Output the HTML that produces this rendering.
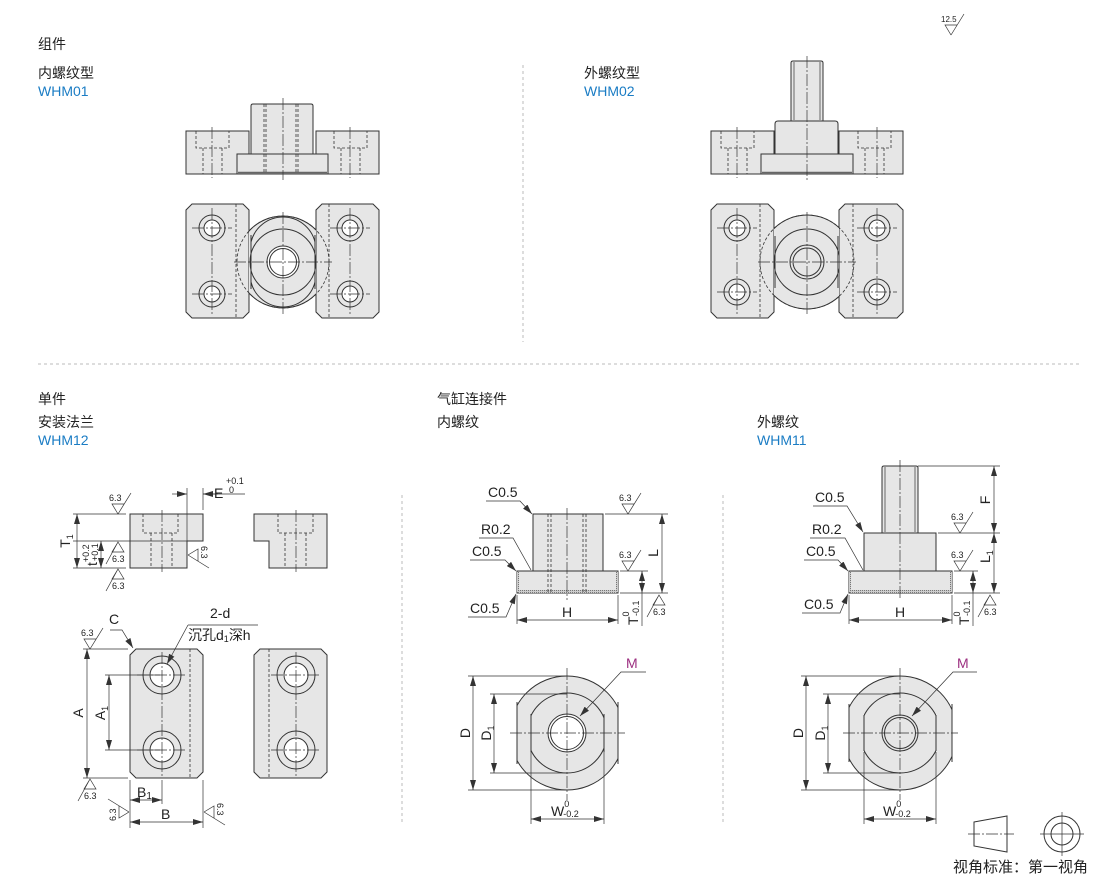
<!DOCTYPE html>
<html><head><meta charset="utf-8"><style>
html,body{margin:0;padding:0;background:#fff;}
svg{display:block;font-family:"Liberation Sans","Noto Sans CJK SC",sans-serif;}
.o{fill:#e6e6e6;stroke:#333;stroke-width:1;}
.n{fill:none;stroke:#333;stroke-width:1;}
.h{fill:none;stroke:#333;stroke-width:0.8;stroke-dasharray:3,2;}
.c{fill:none;stroke:#333;stroke-width:0.7;stroke-dasharray:12,2,2,2;}
.d{fill:none;stroke:#333;stroke-width:0.7;}
.da{fill:none;stroke:#333;stroke-width:0.7;marker-start:url(#a);marker-end:url(#a);}
.w{fill:#fff;stroke:#333;stroke-width:1;}
.t{font-size:14px;fill:#222;}
.b{font-size:14px;fill:#1a7cc4;}
.s{font-size:9px;fill:#222;}
.sl{font-size:14px;fill:#222;}
.dash{stroke:#bbb;stroke-width:1;stroke-dasharray:3,3;fill:none;}
</style></head><body>
<svg width="1110" height="884" viewBox="0 0 1110 884" xmlns="http://www.w3.org/2000/svg">
<defs>
<marker id="a" viewBox="0 0 10 6" refX="10" refY="3" markerWidth="10" markerHeight="6" orient="auto-start-reverse" markerUnits="userSpaceOnUse"><path d="M0,0 L10,3 L0,6 Z" fill="#333"/></marker>
<pattern id="kn" width="2" height="2" patternUnits="userSpaceOnUse"><rect width="2" height="2" fill="#ccc"/><rect width="1" height="1" fill="#777"/></pattern>
<clipPath id="c1"><rect x="249" y="200" width="67" height="130"/></clipPath>
<clipPath id="c2"><rect x="774" y="200" width="65" height="130"/></clipPath>
</defs>

<!-- section labels -->
<text x="38" y="49" class="t">组件</text>
<text x="38" y="78" class="t">内螺纹型</text>
<text x="38" y="96" class="b">WHM01</text>
<text x="584" y="78" class="t">外螺纹型</text>
<text x="584" y="96" class="b">WHM02</text>
<text x="38" y="404" class="t">单件</text>
<text x="38" y="427" class="t">安装法兰</text>
<text x="38" y="445" class="b">WHM12</text>
<text x="437" y="404" class="t">气缸连接件</text>
<text x="437" y="427" class="t">内螺纹</text>
<text x="757" y="427" class="t">外螺纹</text>
<text x="757" y="445" class="b">WHM11</text>

<line x1="523" y1="65" x2="523" y2="342" class="dash"/>
<line x1="38" y1="364" x2="1080" y2="364" class="dash"/>
<line x1="402" y1="495" x2="402" y2="822" class="dash"/>
<line x1="723" y1="495" x2="723" y2="822" class="dash"/>

<!-- 12.5 symbol -->
<g transform="translate(951,35)"><path d="M0,0 L-6,-10 H6 M0,0 L13,-21" class="d"/><text x="-10" y="-13" style="font-size:8px" fill="#222">12.5</text></g>

<!-- ===== WHM01 front ===== -->
<rect x="186" y="131" width="63" height="43" class="o"/>
<path d="M196,131 V148 H229 V131 M203,148 V174 M222,148 V174" class="h"/>
<line x1="212" y1="127" x2="212" y2="178" class="c"/>
<rect x="316" y="131" width="63" height="43" class="o"/>
<path d="M334,131 V148 H367 V131 M341,148 V174 M360,148 V174" class="h"/>
<line x1="350" y1="127" x2="350" y2="178" class="c"/>
<path d="M251,154 V106 Q251,104 253,104 H311 Q313,104 313,106 V154 Z" class="o"/>
<rect x="237" y="154" width="91" height="20" class="o"/>
<line x1="238" y1="172.5" x2="327" y2="172.5" stroke="#666" stroke-width="1.5"/>
<path d="M264,104 V174 M266,104 V174 M296,104 V174 M298,104 V174" class="h"/>
<line x1="283" y1="98" x2="283" y2="180" class="c"/>

<!-- WHM01 bottom -->
<path d="M192,204 H243 L249,210 V312 L243,318 H192 L186,312 V210 Z" class="o"/>
<path d="M322,204 H373 L379,210 V312 L373,318 H322 L316,312 V210 Z" class="o"/>
<line x1="236" y1="204" x2="236" y2="318" class="h"/>
<line x1="329" y1="204" x2="329" y2="318" class="h"/>
<circle cx="283" cy="262" r="46" class="o" clip-path="url(#c1)"/>
<circle cx="283" cy="262" r="46" class="h"/>
<path d="M251,242 A33,33 0 0 1 315,242 M251,282 A33,33 0 0 0 315,282" class="n" clip-path="url(#c1)"/>
<path d="M251,235 V289 M315,235 V289" class="n"/>
<circle cx="283" cy="262" r="33" class="n" clip-path="url(#c1)"/>
<rect x="250" y="230" width="66" height="64" fill="#e6e6e6" opacity="0"/>
<circle cx="283" cy="262" r="16" class="w"/>
<circle cx="283" cy="262" r="13.5" class="n"/>
<path d="M234,262 H332 M283,212 V314" class="c"/>
<g>
<circle cx="212" cy="228" r="13" class="n"/><circle cx="212" cy="228" r="8" class="w"/>
<circle cx="212" cy="294" r="13" class="n"/><circle cx="212" cy="294" r="8" class="w"/>
<circle cx="350" cy="228" r="13" class="n"/><circle cx="350" cy="228" r="8" class="w"/>
<circle cx="350" cy="294" r="13" class="n"/><circle cx="350" cy="294" r="8" class="w"/>
<path d="M192,228 H232 M192,294 H232 M212,208 V314 M330,228 H370 M330,294 H370 M350,208 V314" class="c"/>
</g>

<!-- ===== WHM02 front ===== -->
<rect x="711" y="131" width="63" height="43" class="o"/>
<path d="M721,131 V148 H754 V131 M728,148 V174 M747,148 V174" class="h"/>
<line x1="737" y1="127" x2="737" y2="178" class="c"/>
<rect x="839" y="131" width="64" height="43" class="o"/>
<path d="M858,131 V148 H891 V131 M865,148 V174 M884,148 V174" class="h"/>
<line x1="877" y1="127" x2="877" y2="178" class="c"/>
<path d="M791,121 V63 Q791,61 793,61 H821 Q823,61 823,63 V121 Z" class="o"/>
<path d="M794,62 V120 M820,62 V120" class="d"/>
<path d="M775,154 V124 Q775,121 778,121 H835 Q838,121 838,124 V154 Z" class="o"/>
<rect x="761" y="154" width="92" height="20" class="o"/>
<line x1="762" y1="172.5" x2="852" y2="172.5" stroke="#666" stroke-width="1.5"/>
<line x1="807" y1="56" x2="807" y2="180" class="c"/>

<!-- WHM02 bottom -->
<path d="M717,204 H768 L774,210 V312 L768,318 H717 L711,312 V210 Z" class="o"/>
<path d="M845,204 H897 L903,210 V312 L897,318 H845 L839,312 V210 Z" class="o"/>
<line x1="760" y1="204" x2="760" y2="318" class="h"/>
<line x1="853" y1="204" x2="853" y2="318" class="h"/>
<circle cx="807" cy="262" r="47" class="o" clip-path="url(#c2)"/>
<circle cx="807" cy="262" r="47" class="h"/>
<circle cx="807" cy="262" r="33" class="n" clip-path="url(#c2)"/>
<path d="M775,236 V288 M838,236 V288" class="n"/>
<circle cx="807" cy="262" r="17" class="n"/>
<circle cx="807" cy="262" r="14" class="n"/>
<path d="M758,262 H856 M807,212 V314" class="c"/>
<circle cx="737" cy="228" r="13" class="n"/><circle cx="737" cy="228" r="8" class="w"/>
<circle cx="737" cy="292" r="13" class="n"/><circle cx="737" cy="292" r="8" class="w"/>
<circle cx="877" cy="228" r="13" class="n"/><circle cx="877" cy="228" r="8" class="w"/>
<circle cx="877" cy="292" r="13" class="n"/><circle cx="877" cy="292" r="8" class="w"/>
<path d="M717,228 H757 M717,292 H757 M737,208 V314 M857,228 H897 M857,292 H897 M877,208 V314" class="c"/>

<!-- ===== WHM12 ===== -->
<path d="M130,514 H203 V541 H187 V568 H130 Z" class="o"/>
<path d="M143,514 V533 H178 V514 M151,533 V568 M172,533 V568" class="h"/>
<line x1="162" y1="510" x2="162" y2="572" class="c"/>
<path d="M254,514 H327 V568 H269 V541 H254 Z" class="o"/>
<path d="M278,514 V533 H313 V514 M285,533 V568 M306,533 V568" class="h"/>
<line x1="296" y1="510" x2="296" y2="572" class="c"/>
<!-- E dim -->
<path d="M187,488 V541 M203,488 V510" class="d"/>
<line x1="172" y1="494" x2="187" y2="494" class="d" marker-end="url(#a)"/>
<line x1="218" y1="494" x2="203" y2="494" class="d" marker-end="url(#a)"/>
<line x1="203" y1="494" x2="245" y2="494" class="d"/>
<text x="214" y="498" class="sl">E</text>
<text x="226" y="484" class="s">+0.1</text><text x="229" y="493" class="s">0</text>
<!-- T1, t -->
<path d="M73,514 H126 M73,541 H187 M73,568 H126" class="d"/>
<line x1="77" y1="514" x2="77" y2="568" class="da"/>
<line x1="101" y1="541" x2="101" y2="568" class="da"/>
<text transform="translate(70,541) rotate(-90)" text-anchor="middle" class="sl">T<tspan style="font-size:9px" dy="3">1</tspan></text>
<text transform="translate(97,566) rotate(-90)" class="sl">t<tspan style="font-size:9px" dy="-8">+0.2</tspan><tspan style="font-size:9px" x="5" dy="9">+0.1</tspan></text>
<!-- plates -->
<path d="M136,649 H197 L203,655 V772 L197,778 H136 L130,772 V655 Z" class="o"/>
<line x1="190" y1="649" x2="190" y2="778" class="h"/>
<circle cx="162" cy="675" r="19" class="n"/><circle cx="162" cy="675" r="12" class="w"/>
<circle cx="162" cy="750" r="19" class="n"/><circle cx="162" cy="750" r="12" class="w"/>
<path d="M137,675 H187 M137,750 H187 M162,652 V776" class="c"/>
<path d="M260,649 H321 L327,655 V772 L321,778 H260 L254,772 V655 Z" class="o"/>
<line x1="269" y1="649" x2="269" y2="778" class="h"/>
<circle cx="296" cy="675" r="19" class="n"/><circle cx="296" cy="675" r="12" class="w"/>
<circle cx="296" cy="750" r="19" class="n"/><circle cx="296" cy="750" r="12" class="w"/>
<path d="M271,675 H321 M271,750 H321 M296,652 V776" class="c"/>
<!-- A dims -->
<path d="M83,649 H128 M83,778 H128 M105,675 H160 M105,750 H160" class="d"/>
<line x1="87" y1="649" x2="87" y2="778" class="da"/>
<line x1="109" y1="675" x2="109" y2="750" class="da"/>
<text transform="translate(83,713) rotate(-90)" text-anchor="middle" class="sl">A</text>
<text transform="translate(105,713) rotate(-90)" text-anchor="middle" class="sl">A<tspan style="font-size:9px" dy="3">1</tspan></text>
<path d="M130,780 V828 M203,780 V828 M162,780 V804" class="d"/>
<line x1="130" y1="800" x2="162" y2="800" class="da"/>
<line x1="130" y1="822" x2="203" y2="822" class="da"/>
<text x="137" y="797" class="sl">B<tspan style="font-size:10px" dy="2">1</tspan></text>
<text x="161" y="819" class="sl">B</text>
<!-- C & 2-d -->
<text x="109" y="624" class="sl">C</text>
<path d="M110,630 H122 L133,648" class="d" marker-end="url(#a)"/>
<text x="210" y="618" class="sl">2-d</text>
<line x1="188" y1="625" x2="258" y2="625" class="d"/>
<text x="188" y="640" class="sl">沉孔d<tspan style="font-size:9px" dy="2">1</tspan><tspan dy="-2">深h</tspan></text>
<line x1="188" y1="625" x2="167" y2="664" class="d" marker-end="url(#a)"/>

<!-- surface symbols WHM12 -->
<g transform="translate(118,514)"><path d="M0,0 L-6,-10 H6 M0,0 L13,-21" class="d"/><text x="-9" y="-13" class="s">6.3</text></g>
<g transform="translate(118,542)"><path d="M0,0 L-6,10 H6 Z M0,0 L-12,22" class="d"/><text x="-6" y="20" class="s">6.3</text></g>
<g transform="translate(118,569)"><path d="M0,0 L-6,10 H6 Z M0,0 L-12,22" class="d"/><text x="-6" y="20" class="s">6.3</text></g>
<g transform="translate(188,555) rotate(90)"><path d="M0,0 L-6,-10 H6 M0,0 L13,-21" class="d"/><text x="-9" y="-13" class="s">6.3</text></g>
<g transform="translate(90,649)"><path d="M0,0 L-6,-10 H6 M0,0 L13,-21" class="d"/><text x="-9" y="-13" class="s">6.3</text></g>
<g transform="translate(90,779)"><path d="M0,0 L-6,10 H6 Z M0,0 L-12,22" class="d"/><text x="-6" y="20" class="s">6.3</text></g>
<g transform="translate(129,812) rotate(-90)"><path d="M0,0 L-6,-10 H6 M0,0 L13,-21" class="d"/><text x="-9" y="-13" class="s">6.3</text></g>
<g transform="translate(204,812) rotate(90)"><path d="M0,0 L-6,-10 H6 M0,0 L13,-21" class="d"/><text x="-9" y="-13" class="s">6.3</text></g>

<!-- ===== Gas inner thread ===== -->
<rect x="533" y="514" width="70" height="57" class="o"/>
<rect x="517" y="571" width="101" height="22" class="o"/>
<rect x="518" y="590" width="99" height="3" fill="url(#kn)"/>
<rect x="517" y="572" width="2" height="20" fill="url(#kn)"/><rect x="616" y="572" width="2" height="20" fill="url(#kn)"/>
<path d="M548,514 V593 M551,514 V593 M583,514 V593 M586,514 V593" class="h"/>
<line x1="567" y1="508" x2="567" y2="600" class="c"/>
<path d="M517,595 V624 M618,595 V624 M605,514 H668 M620,593 H668 M620,571 H648" class="d"/>
<line x1="517" y1="620" x2="618" y2="620" class="da"/>
<line x1="662" y1="514" x2="662" y2="593" class="da"/>
<line x1="642" y1="571" x2="642" y2="593" class="da"/>
<line x1="642" y1="593" x2="642" y2="626" class="d"/>
<text x="562" y="617" class="sl">H</text>
<text transform="translate(658,553) rotate(-90)" text-anchor="middle" class="sl">L</text>
<text transform="translate(638,625) rotate(-90)" class="sl">T<tspan style="font-size:9px" dy="-9">0</tspan><tspan style="font-size:9px" x="9" dy="10">-0.1</tspan></text>
<text x="488" y="497" class="sl">C0.5</text><path d="M486,501 H520 L532,514" class="d" marker-end="url(#a)"/>
<text x="481" y="534" class="sl">R0.2</text><path d="M479,538 H513 L531,570" class="d"/>
<text x="472" y="556" class="sl">C0.5</text><path d="M470,560 H505 L516,571" class="d" marker-end="url(#a)"/>
<text x="470" y="613" class="sl">C0.5</text><path d="M468,617 H506 L516,594" class="d" marker-end="url(#a)"/>
<g transform="translate(628,514)"><path d="M0,0 L-6,-10 H6 M0,0 L13,-21" class="d"/><text x="-9" y="-13" class="s">6.3</text></g>
<g transform="translate(628,571)"><path d="M0,0 L-6,-10 H6 M0,0 L13,-21" class="d"/><text x="-9" y="-13" class="s">6.3</text></g>
<g transform="translate(659,595)"><path d="M0,0 L-6,10 H6 Z M0,0 L-12,22" class="d"/><text x="-6" y="20" class="s">6.3</text></g>
<!-- bottom -->
<clipPath id="g1"><rect x="517" y="670" width="101" height="130"/></clipPath>
<circle cx="567" cy="733" r="57" class="o" clip-path="url(#g1)"/>
<path d="M517,702 V764 M618,702 V764" class="n"/>
<clipPath id="g2"><rect x="531" y="680" width="73" height="110"/></clipPath>
<circle cx="567" cy="733" r="40" class="n" clip-path="url(#g2)"/>
<path d="M531,714 V752 M604,714 V752" class="n"/>
<circle cx="567" cy="733" r="19" class="w"/>
<circle cx="567" cy="733" r="16.5" class="n"/>
<path d="M510,733 H625 M567,668 V800" class="c"/>
<path d="M468,676 H567 M468,790 H567 M490,694 H567 M490,773 H567 M531,752 V824 M604,752 V824" class="d"/>
<line x1="473" y1="676" x2="473" y2="790" class="da"/>
<line x1="494" y1="694" x2="494" y2="773" class="da"/>
<line x1="531" y1="819" x2="604" y2="819" class="da"/>
<text transform="translate(470,733) rotate(-90)" text-anchor="middle" class="sl">D</text>
<text transform="translate(491,733) rotate(-90)" text-anchor="middle" class="sl">D<tspan style="font-size:9px" dy="3">1</tspan></text>
<text x="551" y="816" class="sl">W<tspan style="font-size:9px" dy="-9">0</tspan><tspan style="font-size:9px" dx="-6" dy="10">-0.2</tspan></text>
<text x="626" y="668" style="font-size:14px;fill:#9c2f80">M</text>
<path d="M646,672 H621 L580,716" class="d" marker-end="url(#a)"/>

<!-- ===== WHM11 ===== -->
<path d="M882,533 V468 Q882,466 884,466 H916 Q918,466 918,468 V533 Z" class="o"/>
<path d="M885,467 V532 M915,467 V532" class="d"/>
<rect x="864" y="533" width="72" height="38" class="o"/>
<rect x="849" y="571" width="103" height="22" class="o"/>
<rect x="850" y="590" width="101" height="3" fill="url(#kn)"/>
<rect x="849" y="572" width="2" height="20" fill="url(#kn)"/><rect x="950" y="572" width="2" height="20" fill="url(#kn)"/>
<line x1="900" y1="460" x2="900" y2="600" class="c"/>
<path d="M849,595 V624 M952,595 V624 M918,466 H1000 M938,533 H1000 M954,593 H1000 M954,571 H978" class="d"/>
<line x1="849" y1="620" x2="952" y2="620" class="da"/>
<line x1="994" y1="466" x2="994" y2="533" class="da"/>
<line x1="994" y1="533" x2="994" y2="593" class="da"/>
<line x1="973" y1="571" x2="973" y2="593" class="da"/>
<line x1="973" y1="593" x2="973" y2="626" class="d"/>
<text x="895" y="617" class="sl">H</text>
<text transform="translate(990,500) rotate(-90)" text-anchor="middle" class="sl">F</text>
<text transform="translate(990,563) rotate(-90)" class="sl">L<tspan style="font-size:9px" dy="3">1</tspan></text>
<text transform="translate(969,625) rotate(-90)" class="sl">T<tspan style="font-size:9px" dy="-9">0</tspan><tspan style="font-size:9px" x="9" dy="10">-0.1</tspan></text>
<text x="815" y="502" class="sl">C0.5</text><path d="M813,506 H847 L863,532" class="d" marker-end="url(#a)"/>
<text x="812" y="534" class="sl">R0.2</text><path d="M810,538 H845 L863,570" class="d"/>
<text x="806" y="556" class="sl">C0.5</text><path d="M804,560 H838 L848,571" class="d" marker-end="url(#a)"/>
<text x="804" y="609" class="sl">C0.5</text><path d="M802,613 H840 L848,594" class="d" marker-end="url(#a)"/>
<g transform="translate(960,533)"><path d="M0,0 L-6,-10 H6 M0,0 L13,-21" class="d"/><text x="-9" y="-13" class="s">6.3</text></g>
<g transform="translate(960,571)"><path d="M0,0 L-6,-10 H6 M0,0 L13,-21" class="d"/><text x="-9" y="-13" class="s">6.3</text></g>
<g transform="translate(990,595)"><path d="M0,0 L-6,10 H6 Z M0,0 L-12,22" class="d"/><text x="-6" y="20" class="s">6.3</text></g>
<clipPath id="g3"><rect x="849" y="670" width="103" height="130"/></clipPath>
<circle cx="900" cy="733" r="57" class="o" clip-path="url(#g3)"/>
<path d="M849,704 V762 M952,704 V762" class="n"/>
<clipPath id="g4"><rect x="864" y="680" width="72" height="110"/></clipPath>
<circle cx="900" cy="733" r="40" class="n" clip-path="url(#g4)"/>
<path d="M864,715 V751 M936,715 V751" class="n"/>
<circle cx="900" cy="733" r="18" class="n"/>
<circle cx="900" cy="733" r="15.5" class="n"/>
<path d="M843,733 H958 M900,668 V800" class="c"/>
<path d="M801,676 H900 M801,790 H900 M823,694 H900 M823,773 H900 M864,752 V824 M936,752 V824" class="d"/>
<line x1="806" y1="676" x2="806" y2="790" class="da"/>
<line x1="828" y1="694" x2="828" y2="773" class="da"/>
<line x1="864" y1="819" x2="936" y2="819" class="da"/>
<text transform="translate(803,733) rotate(-90)" text-anchor="middle" class="sl">D</text>
<text transform="translate(825,733) rotate(-90)" text-anchor="middle" class="sl">D<tspan style="font-size:9px" dy="3">1</tspan></text>
<text x="883" y="816" class="sl">W<tspan style="font-size:9px" dy="-9">0</tspan><tspan style="font-size:9px" dx="-6" dy="10">-0.2</tspan></text>
<text x="957" y="668" style="font-size:14px;fill:#9c2f80">M</text>
<path d="M977,672 H953 L912,716" class="d" marker-end="url(#a)"/>

<!-- legend -->
<path d="M974,822 L1007,816 V852 L974,846 Z" class="n"/>
<path d="M968,834 H1014" class="c"/>
<circle cx="1062" cy="834" r="18" class="n"/>
<circle cx="1062" cy="834" r="11" class="n"/>
<path d="M1040,834 H1084 M1062,812 V856" class="d"/>
<text x="953" y="872" style="font-size:15px;fill:#222">视角标准：第一视角</text>
</svg>
</body></html>
